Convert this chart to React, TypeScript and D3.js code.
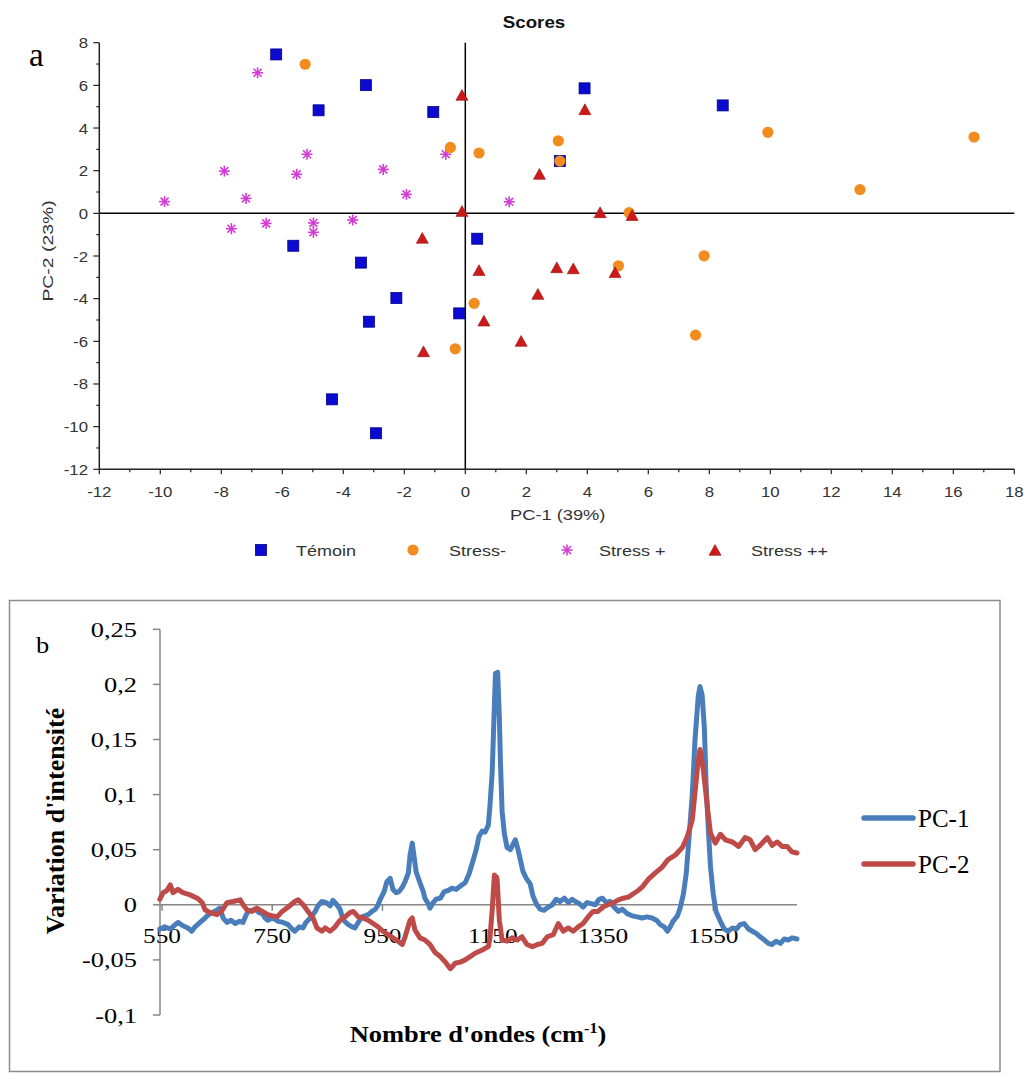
import React from "react";
import * as d3 from "d3";

// ---------- Panel a : PCA scores ----------
const temoinX = [-6.2, -3.26, -4.81, -1.05, -5.64, -3.42, 0.39, -2.26, -3.16, -0.2, -4.37, -2.93, 3.91, 8.44, 3.1];
const temoinY = [7.45, 6.01, 4.83, 4.75, -1.52, -2.31, -1.19, -3.97, -5.08, -4.69, -8.72, -10.31, 5.86, 5.06, 2.45];
const stressMinusX = [-5.25, -0.49, 0.45, 3.05, 9.92, 16.68, 12.94, 5.37, 7.83, 5.02, 7.55, 0.29, -0.33, 3.1];
const stressMinusY = [6.99, 3.09, 2.83, 3.4, 3.8, 3.58, 1.11, 0.03, -1.99, -2.46, -5.71, -4.22, -6.35, 2.45];
const stressPlusX = [-6.81, -5.19, -7.9, -5.53, -2.69, -9.86, -7.19, -1.93, -0.64, -7.67, -6.53, -4.98, -4.98, -3.69, 1.44];
const stressPlusY = [6.59, 2.77, 1.98, 1.83, 2.06, 0.55, 0.7, 0.89, 2.77, -0.72, -0.47, -0.45, -0.89, -0.31, 0.54];
const stressPPX = [-0.11, -0.11, -1.41, 0.45, 3.92, 2.43, 4.42, 5.47, 3.0, 3.54, 4.91, 2.38, 1.83, 0.61, -1.37];
const stressPPY = [5.5, 0.06, -1.2, -2.71, 4.83, 1.8, 0, -0.13, -2.58, -2.63, -2.81, -3.83, -6.03, -5.08, -6.52];
const scoreSeries = ["Témoin", "Stress-", "Stress +", "Stress ++"];
const scoreXTicks = d3.range(-12, 19, 2);
const scoreYTicks = d3.range(-12, 9, 2);

// ---------- Panel b : loadings ----------
const pc1Points: [number, number][] = [
  [546, -0.022], [555, -0.02], [565, -0.022], [574, -0.018], [579, -0.016], [588, -0.019], [597, -0.021], [604, -0.024],
  [610, -0.02], [619, -0.016], [626, -0.013], [634, -0.009], [641, -0.007], [646, -0.006], [655, -0.003], [661, -0.012],
  [668, -0.016], [675, -0.014], [683, -0.017], [690, -0.015], [697, -0.016], [702, -0.01], [706, -0.006], [713, -0.005],
  [719, -0.004], [726, -0.007], [732, -0.008], [737, -0.012], [742, -0.014], [751, -0.012], [761, -0.015], [770, -0.016],
  [779, -0.018], [786, -0.022], [791, -0.024], [799, -0.02], [806, -0.021], [811, -0.016], [819, -0.012], [828, -0.006],
  [833, -0.001], [840, 0.003], [848, 0.002], [855, -0.001], [860, 0.004], [866, 0.001], [873, -0.004], [879, -0.014],
  [888, -0.018], [895, -0.02], [900, -0.021], [906, -0.016], [913, -0.011], [924, -0.009], [931, -0.006], [937, -0.004],
  [942, 0.0], [946, 0.005], [953, 0.012], [958, 0.021], [964, 0.024], [969, 0.014], [975, 0.011], [980, 0.012],
  [986, 0.016], [991, 0.021], [997, 0.029], [1000, 0.045], [1004, 0.056], [1007, 0.045], [1011, 0.03], [1018, 0.02],
  [1024, 0.012], [1027, 0.006], [1033, 0.001], [1036, -0.003], [1042, 0.002], [1047, 0.005], [1055, 0.006], [1062, 0.012],
  [1069, 0.013], [1076, 0.015], [1084, 0.014], [1091, 0.017], [1100, 0.02], [1107, 0.028], [1113, 0.038], [1120, 0.05],
  [1125, 0.062], [1131, 0.067], [1136, 0.066], [1142, 0.072], [1145, 0.09], [1149, 0.12], [1153, 0.18], [1155, 0.21],
  [1159, 0.211], [1162, 0.17], [1164, 0.13], [1167, 0.085], [1171, 0.065], [1176, 0.052], [1182, 0.05], [1187, 0.055],
  [1191, 0.059], [1196, 0.05], [1200, 0.041], [1205, 0.03], [1211, 0.024], [1218, 0.019], [1223, 0.008], [1229, 0.001],
  [1236, -0.004], [1243, -0.005], [1251, -0.002], [1258, 0.0], [1265, 0.005], [1272, 0.003], [1280, 0.006], [1287, 0.002],
  [1294, 0.005], [1300, 0.003], [1307, 0.001], [1314, -0.002], [1321, 0.002], [1329, 0.001], [1336, 0.0], [1343, 0.005],
  [1349, 0.006], [1356, 0.002], [1363, 0.003], [1370, -0.002], [1378, -0.006], [1385, -0.004], [1394, -0.008], [1403, -0.01],
  [1412, -0.011], [1421, -0.012], [1430, -0.011], [1439, -0.012], [1447, -0.014], [1454, -0.018], [1461, -0.02], [1467, -0.024],
  [1472, -0.02], [1477, -0.015], [1485, -0.01], [1490, -0.003], [1496, 0.01], [1501, 0.028], [1506, 0.06], [1512, 0.1],
  [1517, 0.15], [1523, 0.19], [1526, 0.198], [1530, 0.19], [1534, 0.16], [1537, 0.11], [1541, 0.07], [1545, 0.035],
  [1550, 0.01], [1555, -0.006], [1563, -0.015], [1570, -0.022], [1577, -0.024], [1585, -0.021], [1592, -0.022], [1599, -0.018],
  [1606, -0.017], [1614, -0.022], [1621, -0.024], [1628, -0.026], [1635, -0.029], [1643, -0.032], [1650, -0.035], [1657, -0.036],
  [1664, -0.033], [1672, -0.035], [1679, -0.031], [1686, -0.032], [1693, -0.03], [1702, -0.031],
];
const pc2Points: [number, number][] = [
  [546, 0.005], [552, 0.011], [559, 0.013], [565, 0.018], [570, 0.011], [579, 0.014], [588, 0.011], [601, 0.009],
  [614, 0.006], [623, 0.002], [628, -0.0045], [637, -0.007], [650, -0.009], [659, -0.005], [668, 0.002], [679, 0.003],
  [692, 0.0045], [697, 0.0], [704, -0.0045], [713, -0.006], [722, -0.003], [732, -0.006], [742, -0.009], [759, -0.011],
  [768, -0.006], [779, -0.002], [791, 0.003], [797, 0.0045], [806, 0.0], [815, -0.006], [824, -0.012], [831, -0.021],
  [840, -0.024], [846, -0.021], [855, -0.024], [864, -0.02], [873, -0.014], [882, -0.011], [891, -0.007], [897, -0.006],
  [906, -0.011], [915, -0.012], [924, -0.014], [933, -0.017], [942, -0.02], [951, -0.024], [960, -0.027], [969, -0.03],
  [978, -0.033], [986, -0.036], [991, -0.029], [1000, -0.014], [1004, -0.012], [1009, -0.023], [1018, -0.03], [1027, -0.032],
  [1036, -0.036], [1045, -0.043], [1055, -0.047], [1064, -0.052], [1073, -0.058], [1082, -0.053], [1091, -0.052], [1100, -0.05],
  [1109, -0.047], [1118, -0.044], [1131, -0.041], [1142, -0.038], [1145, -0.03], [1149, -0.005], [1153, 0.027], [1157, 0.025],
  [1158, 0.023], [1162, -0.014], [1167, -0.032], [1176, -0.033], [1185, -0.03], [1194, -0.032], [1203, -0.029], [1212, -0.036],
  [1222, -0.038], [1231, -0.036], [1240, -0.035], [1249, -0.029], [1260, -0.027], [1269, -0.017], [1278, -0.024], [1287, -0.021],
  [1296, -0.024], [1305, -0.02], [1314, -0.017], [1323, -0.011], [1332, -0.006], [1341, -0.006], [1350, -0.002], [1359, 0.0],
  [1369, 0.002], [1378, 0.0045], [1387, 0.006], [1396, 0.007], [1405, 0.01], [1414, 0.013], [1421, 0.016], [1432, 0.023],
  [1445, 0.029], [1457, 0.034], [1468, 0.041], [1481, 0.045], [1494, 0.052], [1503, 0.062], [1512, 0.077], [1517, 0.102],
  [1523, 0.132], [1526, 0.141], [1532, 0.123], [1540, 0.086], [1545, 0.065], [1554, 0.056], [1563, 0.064], [1572, 0.059],
  [1585, 0.057], [1596, 0.053], [1608, 0.061], [1617, 0.059], [1626, 0.05], [1635, 0.054], [1648, 0.061], [1657, 0.054],
  [1666, 0.057], [1675, 0.053], [1684, 0.053], [1693, 0.048], [1702, 0.047],
];
const loadXTicks = [550, 750, 950, 1150, 1350, 1550];
const loadYTicks = [-0.1, -0.05, 0, 0.05, 0.1, 0.15, 0.2, 0.25];
const loadSeries = ["PC-1", "PC-2"];

const SANS = "'Liberation Sans', Arial, sans-serif";
const SERIF = "'Liberation Serif', 'Times New Roman', serif";

const C_BLUE = "#0a0ad0";
const C_ORANGE = "#f28c1f";
const C_MAG = "#d23cd2";
const C_RED = "#cc1a1a";
const C_PC1 = "#4a7ebb";
const C_PC2 = "#be4b48";

function T(props: any) {
  const { x, y, sx = 1, rotate = 0, anchor = "start", size, family, weight = "normal", fill = "#000", children } = props;
  return (
    <text
      transform={`translate(${x},${y})${rotate ? ` rotate(${rotate})` : ""} scale(${sx},1)`}
      textAnchor={anchor}
      fontSize={size}
      fontFamily={family}
      fontWeight={weight}
      fill={fill}
    >
      {children}
    </text>
  );
}

function Square({ cx, cy, s = 11, fill }: any) {
  return <rect x={cx - s / 2} y={cy - s / 2} width={s} height={s} fill={fill} stroke="#00008a" strokeWidth={0.8} />;
}
function Dot({ cx, cy, r = 5.6, fill }: any) {
  return <circle cx={cx} cy={cy} r={r} fill={fill} />;
}
function Star({ cx, cy, r = 5.5, color }: any) {
  const a = r * 0.72;
  return (
    <g stroke={color} strokeWidth={1.6}>
      <line x1={cx} y1={cy - r} x2={cx} y2={cy + r} />
      <line x1={cx - r} y1={cy} x2={cx + r} y2={cy} />
      <line x1={cx - a} y1={cy - a} x2={cx + a} y2={cy + a} />
      <line x1={cx - a} y1={cy + a} x2={cx + a} y2={cy - a} />
    </g>
  );
}
function Tri({ cx, cy, s = 12, fill }: any) {
  const h = s * 0.9;
  return (
    <path
      d={`M${cx},${cy - h * 0.6} L${cx + s / 2},${cy + h * 0.4} L${cx - s / 2},${cy + h * 0.4} Z`}
      fill={fill}
      stroke="#9a0f0f"
      strokeWidth={0.6}
    />
  );
}

export default function App() {
  // Panel a scales
  const sx = d3.scaleLinear().domain([-12, 18]).range([99.3, 1014.3]);
  const sy = d3.scaleLinear().domain([-12, 8]).range([469.3, 42.7]);
  const minorX = d3.range(-11, 18, 2);
  const minorY = d3.range(-11, 8, 2);

  // Panel b scales
  const bx = d3.scaleLinear().domain([546.4, 1702]).range([160, 797]);
  const by = d3.scaleLinear().domain([-0.1, 0.25]).range([1015, 629.3]);
  const line = d3
    .line<[number, number]>()
    .x((d) => bx(d[0]))
    .y((d) => by(d[1]));

  const fmt = (v: number) => (v === 0 ? "0" : String(+v.toFixed(2)).replace(".", ","));

  const legendA = [
    { x: 261, tx: 296, kind: "sq" },
    { x: 413, tx: 449, kind: "dot" },
    { x: 567, tx: 599, kind: "star" },
    { x: 715, tx: 751, kind: "tri" },
  ];

  return (
    <svg
      width={1026}
      height={1077}
      style={{ position: "absolute", left: 0, top: 0, display: "block", background: "#fff" }}
    >
      <rect x={0} y={0} width={1026} height={1077} fill="#fff" />

      {/* ===== Panel a ===== */}
      <T x={29} y={66} size={33} family={SERIF}>a</T>
      <T x={534} y={28} anchor="middle" size={17} weight="bold" family={SANS} sx={1.1} fill="#111">Scores</T>

      {/* zero lines */}
      <line x1={sx(-12)} x2={sx(18)} y1={sy(0)} y2={sy(0)} stroke="#000" strokeWidth={1.5} />
      <line x1={sx(0)} x2={sx(0)} y1={sy(8)} y2={sy(-12)} stroke="#000" strokeWidth={1.5} />

      {/* axes */}
      <line x1={sx(-12)} x2={sx(-12)} y1={sy(8)} y2={sy(-12)} stroke="#222" strokeWidth={1.5} />
      <line x1={sx(-12)} x2={sx(18)} y1={sy(-12)} y2={sy(-12)} stroke="#222" strokeWidth={1.5} />
      {scoreYTicks.map((t) => (
        <g key={"yt" + t}>
          <line x1={sx(-12) - 6} x2={sx(-12)} y1={sy(t)} y2={sy(t)} stroke="#222" strokeWidth={1.2} />
          <T x={88} y={sy(t) + 5.5} anchor="end" size={15} family={SANS} sx={1.12} fill="#333">{t}</T>
        </g>
      ))}
      {minorY.map((t) => (
        <line key={"ym" + t} x1={sx(-12) - 3} x2={sx(-12)} y1={sy(t)} y2={sy(t)} stroke="#222" strokeWidth={1.2} />
      ))}
      {scoreXTicks.map((t) => (
        <g key={"xt" + t}>
          <line x1={sx(t)} x2={sx(t)} y1={sy(-12)} y2={sy(-12) + 5} stroke="#222" strokeWidth={1.2} />
          <T x={sx(t)} y={497} anchor="middle" size={15} family={SANS} sx={1.12} fill="#333">{t}</T>
        </g>
      ))}
      {minorX.map((t) => (
        <line key={"xm" + t} x1={sx(t)} x2={sx(t)} y1={sy(-12)} y2={sy(-12) + 3} stroke="#222" strokeWidth={1.2} />
      ))}
      <T x={510} y={520} size={15.5} family={SANS} sx={1.18} fill="#333">PC-1 (39%)</T>
      <T x={53} y={251} anchor="middle" rotate={-90} size={15.5} family={SANS} sx={1.25} fill="#333">PC-2 (23%)</T>

      {/* points */}
      {temoinX.map((v, i) => (
        <Square key={"t" + i} cx={sx(v)} cy={sy(temoinY[i])} fill={C_BLUE} />
      ))}
      {stressPlusX.map((v, i) => (
        <Star key={"p" + i} cx={sx(v)} cy={sy(stressPlusY[i])} color={C_MAG} />
      ))}
      {stressMinusX.map((v, i) => (
        <Dot key={"m" + i} cx={sx(v)} cy={sy(stressMinusY[i])} fill={C_ORANGE} />
      ))}
      {stressPPX.map((v, i) => (
        <Tri key={"r" + i} cx={sx(v)} cy={sy(stressPPY[i])} fill={C_RED} />
      ))}

      {/* legend a */}
      {legendA.map((l, i) => (
        <g key={"la" + i}>
          {l.kind === "sq" && <Square cx={l.x} cy={550} s={11} fill={C_BLUE} />}
          {l.kind === "dot" && <Dot cx={l.x} cy={550} fill={C_ORANGE} />}
          {l.kind === "star" && <Star cx={l.x} cy={550} color={C_MAG} />}
          {l.kind === "tri" && <Tri cx={l.x} cy={551} fill={C_RED} />}
          <T x={l.tx} y={556} size={15} family={SANS} sx={1.2} fill="#333">{scoreSeries[i]}</T>
        </g>
      ))}

      {/* ===== Panel b ===== */}
      <rect x={9.5} y={600.5} width={990.5} height={471} fill="none" stroke="#8c8c8c" strokeWidth={1.5} />
      <T x={36} y={653} size={24} family={SERIF} sx={1.1}>b</T>

      {/* y axis */}
      <line x1={160} x2={160} y1={by(0.25)} y2={by(-0.1)} stroke="#868686" strokeWidth={1.5} />
      {loadYTicks.map((t) => (
        <g key={"byt" + t}>
          <line x1={153} x2={160} y1={by(t)} y2={by(t)} stroke="#868686" strokeWidth={1.5} />
          <T x={137} y={by(t) + 7.5} anchor="end" size={22} family={SERIF} sx={1.2}>{fmt(t)}</T>
        </g>
      ))}
      {/* x axis at zero */}
      <line x1={160} x2={797} y1={by(0)} y2={by(0)} stroke="#868686" strokeWidth={1.5} />
      {loadXTicks.map((t) => (
        <g key={"bxt" + t}>
          <line x1={bx(t)} x2={bx(t)} y1={by(0)} y2={by(0) + 6} stroke="#868686" strokeWidth={1.5} />
          <T x={bx(t)} y={943} anchor="middle" size={22} family={SERIF} sx={1.15}>{t}</T>
        </g>
      ))}

      {/* lines */}
      <path d={line(pc1Points) || ""} fill="none" stroke={C_PC1} strokeWidth={5} strokeLinejoin="round" strokeLinecap="round" />
      <path d={line(pc2Points) || ""} fill="none" stroke={C_PC2} strokeWidth={5} strokeLinejoin="round" strokeLinecap="round" />

      {/* axis titles */}
      <text transform="translate(478,1042) scale(1.15,1)" textAnchor="middle" fontFamily={SERIF} fontWeight="bold" fontSize={23}>
        Nombre d'ondes (cm<tspan dy={-9} fontSize={14}>-1</tspan><tspan dy={9}>)</tspan>
      </text>
      <T x={64} y={821} anchor="middle" rotate={-90} size={26} family={SERIF} weight="bold">Variation d'intensité</T>

      {/* legend b */}
      {loadSeries.map((s, i) => (
        <g key={"lb" + s}>
          <line x1={864} x2={913} y1={818 + i * 46} y2={818 + i * 46} stroke={i === 0 ? C_PC1 : C_PC2} strokeWidth={5.5} strokeLinecap="round" />
          <T x={918} y={827 + i * 46} size={25} family={SERIF}>{s}</T>
        </g>
      ))}
    </svg>
  );
}
